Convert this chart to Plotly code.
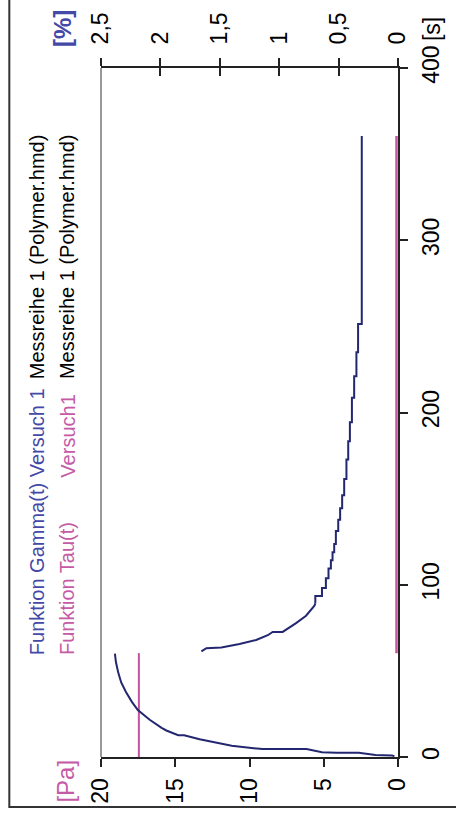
import plotly.graph_objects as go

# Creep phase: shear strain gamma [%] over time [s]
t_creep = [0.5, 0.85, 1.2, 2.4, 2.4, 2.7, 4.6, 4.6, 6.5, 7.8, 9.0, 10.3, 12.6, 12.6,
           15.4, 16.9, 21.6, 27.3, 32.0, 37.7, 43.3, 49.0, 55.0, 60.0]
gamma_creep = [0.03, 0.05, 0.19, 0.33, 0.52, 0.64, 0.77, 1.14, 1.40, 1.50, 1.59, 1.67,
               1.80, 1.85, 1.95, 1.99, 2.09, 2.19, 2.24, 2.29, 2.33, 2.355, 2.374, 2.383]

# Recovery phase: smooth start, then stepwise decay
t_recovery = [61.3, 63.2, 63.6, 65.6, 67.9, 70.7, 72.6, 72.6, 77.7, 82.0, 87.7, 89.1,
              93.4, 98.1, 103.8, 109.5, 114.2, 118.9, 123.6, 131.2, 137.8, 144.4, 152.0,
              161.4, 172.7, 183.3, 194.4, 208.6, 221.0, 235.0, 251.4, 360.5]
gamma_recovery = [1.655, 1.613, 1.487, 1.334, 1.194, 1.096, 1.055, 0.971, 0.858, 0.774,
                  0.705, 0.696, 0.640, 0.607, 0.585, 0.565, 0.551, 0.537, 0.523, 0.503,
                  0.487, 0.470, 0.453, 0.434, 0.419, 0.405, 0.388, 0.369, 0.350, 0.336,
                  0.305, 0.305]
STEP_START = 11  # index where the stepwise part begins

# Shear stress tau [Pa]
t_tau_load = [0.0, 60.3]
tau_load = [17.45, 17.45]
t_tau_free = [60.3, 360.5]
tau_free = [0.1, 0.1]

pa_ticks = [0, 5, 10, 15, 20]
pct_ticks = [0, 0.5, 1, 1.5, 2, 2.5]
pct_labels = ["0", "0,5", "1", "1,5", "2", "2,5"]
time_ticks = [0, 100, 200, 300, 400]
time_labels = ["0", "100", "200", "300", "400"]

NAVY = "#23276f"
MAGENTA = "#c4529f"
BLUE_TXT = "#4449a8"
PINK_TXT = "#c55aa6"
FONT = "Liberation Sans, Arial, sans-serif"

fig = go.Figure()

fig.add_trace(go.Scatter(x=tau_load, y=t_tau_load, xaxis="x", yaxis="y",
                         mode="lines", line=dict(color=MAGENTA, width=2)))
fig.add_trace(go.Scatter(x=tau_free, y=t_tau_free, xaxis="x", yaxis="y",
                         mode="lines", line=dict(color=MAGENTA, width=2.5)))
fig.add_trace(go.Scatter(x=gamma_creep, y=t_creep, xaxis="x2", yaxis="y",
                         mode="lines", line=dict(color=NAVY, width=2)))
fig.add_trace(go.Scatter(x=gamma_recovery[:STEP_START + 1], y=t_recovery[:STEP_START + 1],
                         xaxis="x2", yaxis="y", mode="lines",
                         line=dict(color=NAVY, width=2)))
fig.add_trace(go.Scatter(x=gamma_recovery[STEP_START:], y=t_recovery[STEP_START:],
                         xaxis="x2", yaxis="y", mode="lines",
                         line=dict(color=NAVY, width=2, shape="vh")))
# Empty trace so the inside-tick overlay axis is rendered
fig.add_trace(go.Scatter(x=[None], y=[None], xaxis="x3", yaxis="y", hoverinfo="skip"))

tickfont = dict(family=FONT, size=23, color="black")

fig.update_layout(
    width=456, height=823,
    margin=dict(l=101, r=57, t=51, b=66),
    paper_bgcolor="white", plot_bgcolor="white",
    showlegend=False,
    xaxis=dict(range=[20, 0], side="bottom", tickvals=pa_ticks, ticks="outside",
               ticklen=8, tickwidth=1.5, tickcolor="#222", showline=True,
               linecolor="#222", linewidth=2, tickangle=-90, tickfont=tickfont,
               showgrid=False, zeroline=False, ticklabelstandoff=2),
    xaxis2=dict(range=[2.5, 0], side="top", overlaying="x", tickvals=pct_ticks,
                ticktext=pct_labels, ticks="outside", ticklen=8, tickwidth=1.5,
                tickcolor="#222", showline=True, linecolor="#222", linewidth=2,
                tickangle=-90, tickfont=tickfont, showgrid=False, zeroline=False,
                ticklabelstandoff=9),
    xaxis3=dict(range=[2.5, 0], side="top", overlaying="x", tickvals=pct_ticks,
                ticks="inside", ticklen=8, tickwidth=1.5, tickcolor="#222",
                showticklabels=False, showline=False, showgrid=False, zeroline=False),
    yaxis=dict(range=[0, 400], side="right", tickvals=time_ticks, ticktext=time_labels,
               ticks="outside", ticklen=8, tickwidth=1.5, tickcolor="#222",
               showline=True, linecolor="#222", linewidth=2, tickangle=-90,
               tickfont=tickfont, showgrid=False, zeroline=False, ticklabelstandoff=3,
               layer="below traces"),
)

shapes = [
    # grey left border of the plot area
    dict(type="line", xref="paper", yref="paper", x0=0, x1=0, y0=0, y1=1,
         line=dict(color="#999999", width=2)),
    # outer frame
    dict(type="rect", xref="paper", yref="paper", x0=-0.3087, x1=1.6, y0=-0.0727, y1=1.2,
         line=dict(color="#333333", width=2)),
]
fig.update_layout(shapes=shapes)

legend_font = 20
row1_x, row2_x = -0.2148, -0.1141
start_y, versuch_y, messreihe_y = 0.1445, 0.402, 0.545
annotations = [
    dict(text="Funktion Gamma(t) Versuch 1", x=row1_x, y=start_y,
         font=dict(family=FONT, size=legend_font, color=BLUE_TXT)),
    dict(text="Messreihe 1 (Polymer.hmd)", x=row1_x, y=messreihe_y,
         font=dict(family=FONT, size=legend_font, color="black")),
    dict(text="Funktion Tau(t)", x=row2_x, y=start_y,
         font=dict(family=FONT, size=legend_font, color=PINK_TXT)),
    dict(text="Versuch1", x=row2_x, y=versuch_y,
         font=dict(family=FONT, size=legend_font, color=PINK_TXT)),
    dict(text="Messreihe 1 (Polymer.hmd)", x=row2_x, y=messreihe_y,
         font=dict(family=FONT, size=legend_font, color="black")),
    dict(text="[s]", x=1.114, y=1.036, font=dict(family=FONT, size=23, color="black")),
    dict(text="<b>[%]</b>", x=-0.1275, y=1.027,
         font=dict(family=FONT, size=24, color=BLUE_TXT)),
    dict(text="[Pa]", x=-0.1208, y=-0.0014, yanchor="top",
         font=dict(family=FONT, size=24, color=PINK_TXT)),
]
for a in annotations:
    a.setdefault("yanchor", "bottom")
    a.update(xref="paper", yref="paper", xanchor="center", showarrow=False, textangle=-90)
fig.update_layout(annotations=annotations)

fig.write_html("out.html")
